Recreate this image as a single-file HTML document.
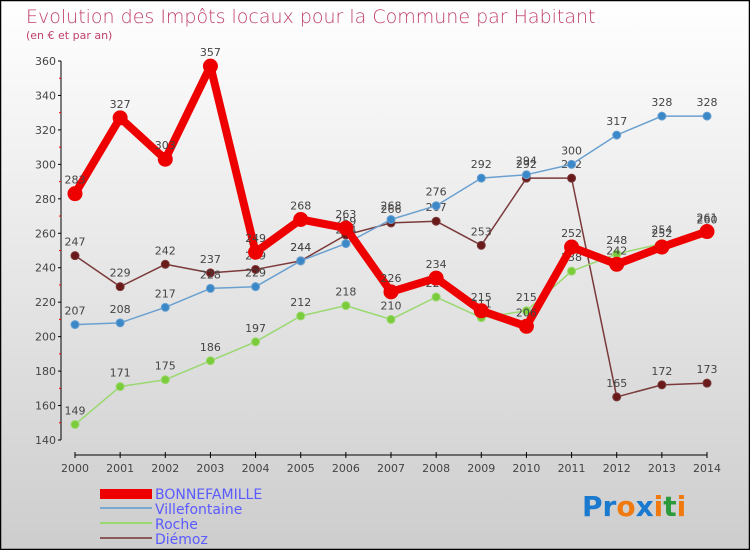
<!DOCTYPE html>
<html><head><meta charset="utf-8"><style>
body{margin:0;width:750px;height:550px;overflow:hidden;font-family:"DejaVu Sans","Liberation Sans",sans-serif}
</style></head><body>
<svg id="chart" width="750" height="550" xmlns="http://www.w3.org/2000/svg">
<defs><linearGradient id="bg" x1="0" y1="0" x2="0" y2="1"><stop offset="0" stop-color="#ffffff"/><stop offset="1" stop-color="#cdcdcd"/></linearGradient></defs>
<rect x="0.5" y="0.5" width="749" height="549" fill="url(#bg)" stroke="#000" stroke-width="1.5"/>
<text x="26" y="23" font-size="19" fill="#c0406a" font-weight="300">Evolution des Impôts locaux pour la Commune par Habitant</text>
<text x="26" y="39" font-size="11" fill="#c0406a">(en € et par an)</text>
<g id="axes"></g><g id="series"></g>
<g font-size="14" fill="#5a5aff">
<rect x="100" y="489" width="52" height="10" fill="#e00"/>
<text x="155" y="499">BONNEFAMILLE</text>
<line x1="100" y1="508" x2="152" y2="508" stroke="#7aa7d0" stroke-width="2"/>
<text x="155" y="514">Villefontaine</text>
<line x1="100" y1="523" x2="152" y2="523" stroke="#9ad870" stroke-width="2"/>
<text x="155" y="529">Roche</text>
<line x1="100" y1="538" x2="152" y2="538" stroke="#8a5a5a" stroke-width="2"/>
<text x="155" y="544">Diémoz</text>
</g>
<g font-size="28" font-weight="bold" font-family="DejaVu Sans, sans-serif">
<text x="582" y="516"><tspan fill="#1a7ad0">Pr</tspan><tspan fill="#f07a10">o</tspan><tspan fill="#1a7ad0">x</tspan><tspan fill="#f07a10">i</tspan><tspan fill="#2a9a3a">t</tspan><tspan fill="#f07a10">i</tspan></text>
</g>
</svg>
<script>
const years=[2000,2001,2002,2003,2004,2005,2006,2007,2008,2009,2010,2011,2012,2013,2014];
const yTicks=[140,160,180,200,220,240,260,280,300,320,340,360];
const bonne=[283,327,303,357,249,268,263,226,234,215,206,252,242,252,261];
const ville=[207,208,217,228,229,244,254,268,276,292,294,300,317,328,328];
const roche=[149,171,175,186,197,212,218,210,223,211,215,238,248,254,260];
const diemoz=[247,229,242,237,239,244,259,266,267,253,292,292,165,172,173];
const NS="http://www.w3.org/2000/svg";
const xS=i=>75+i*(632/(years.length-1));
const yS=v=>440-(v-140)*(379/220);
function mk(t,a,p){const e=document.createElementNS(NS,t);for(const k in a)e.setAttribute(k,a[k]);p.appendChild(e);return e;}
const ax=document.getElementById('axes'),sg=document.getElementById('series');
mk('line',{x1:61,y1:yS(360),x2:61,y2:440,stroke:'#000','stroke-width':1},ax);
mk('line',{x1:75,y1:455,x2:707,y2:455,stroke:'#000','stroke-width':1},ax);
yTicks.forEach(v=>{mk('line',{x1:58,y1:yS(v),x2:61,y2:yS(v),stroke:'#000'},ax);
 const t=mk('text',{x:56,y:yS(v)+4,'font-size':11,fill:'#444','text-anchor':'end'},ax);t.textContent=v;
 
 if(v<360)mk('line',{x1:59,y1:yS(v+10),x2:61,y2:yS(v+10),stroke:'#e00'},ax);});
years.forEach((y,i)=>{mk('line',{x1:xS(i),y1:452,x2:xS(i),y2:458,stroke:'#000'},ax);
 const t=mk('text',{x:xS(i),y:472,'font-size':11,fill:'#444','text-anchor':'middle'},ax);t.textContent=y;
 });
function series(name,vals,color,w,r,mcol){
 const g=mk('g',{},sg);
 mk('polyline',{points:vals.map((v,i)=>xS(i)+','+yS(v)).join(' '),fill:'none',stroke:color,'stroke-width':w,'stroke-linejoin':'round'},g);
 vals.forEach((v,i)=>{const c=mk('circle',{cx:xS(i),cy:yS(v),r:r,fill:mcol,stroke:color,'stroke-width':1},g);
  
  const t=mk('text',{x:xS(i),y:yS(v)-10,'font-size':11,fill:'#444','text-anchor':'middle'},g);t.textContent=v;});
}
series('diemoz',diemoz,'#7a3a3a',1.5,4,'#6a1a1a');
series('villefontaine',ville,'#6aa0d0',1.5,4,'#3a88c8');
series('roche',roche,'#9ad870',1.5,4,'#7acc3a');
series('bonnefamille',bonne,'#ee0000',8,7,'#ee0000');
</script>
</body></html>
